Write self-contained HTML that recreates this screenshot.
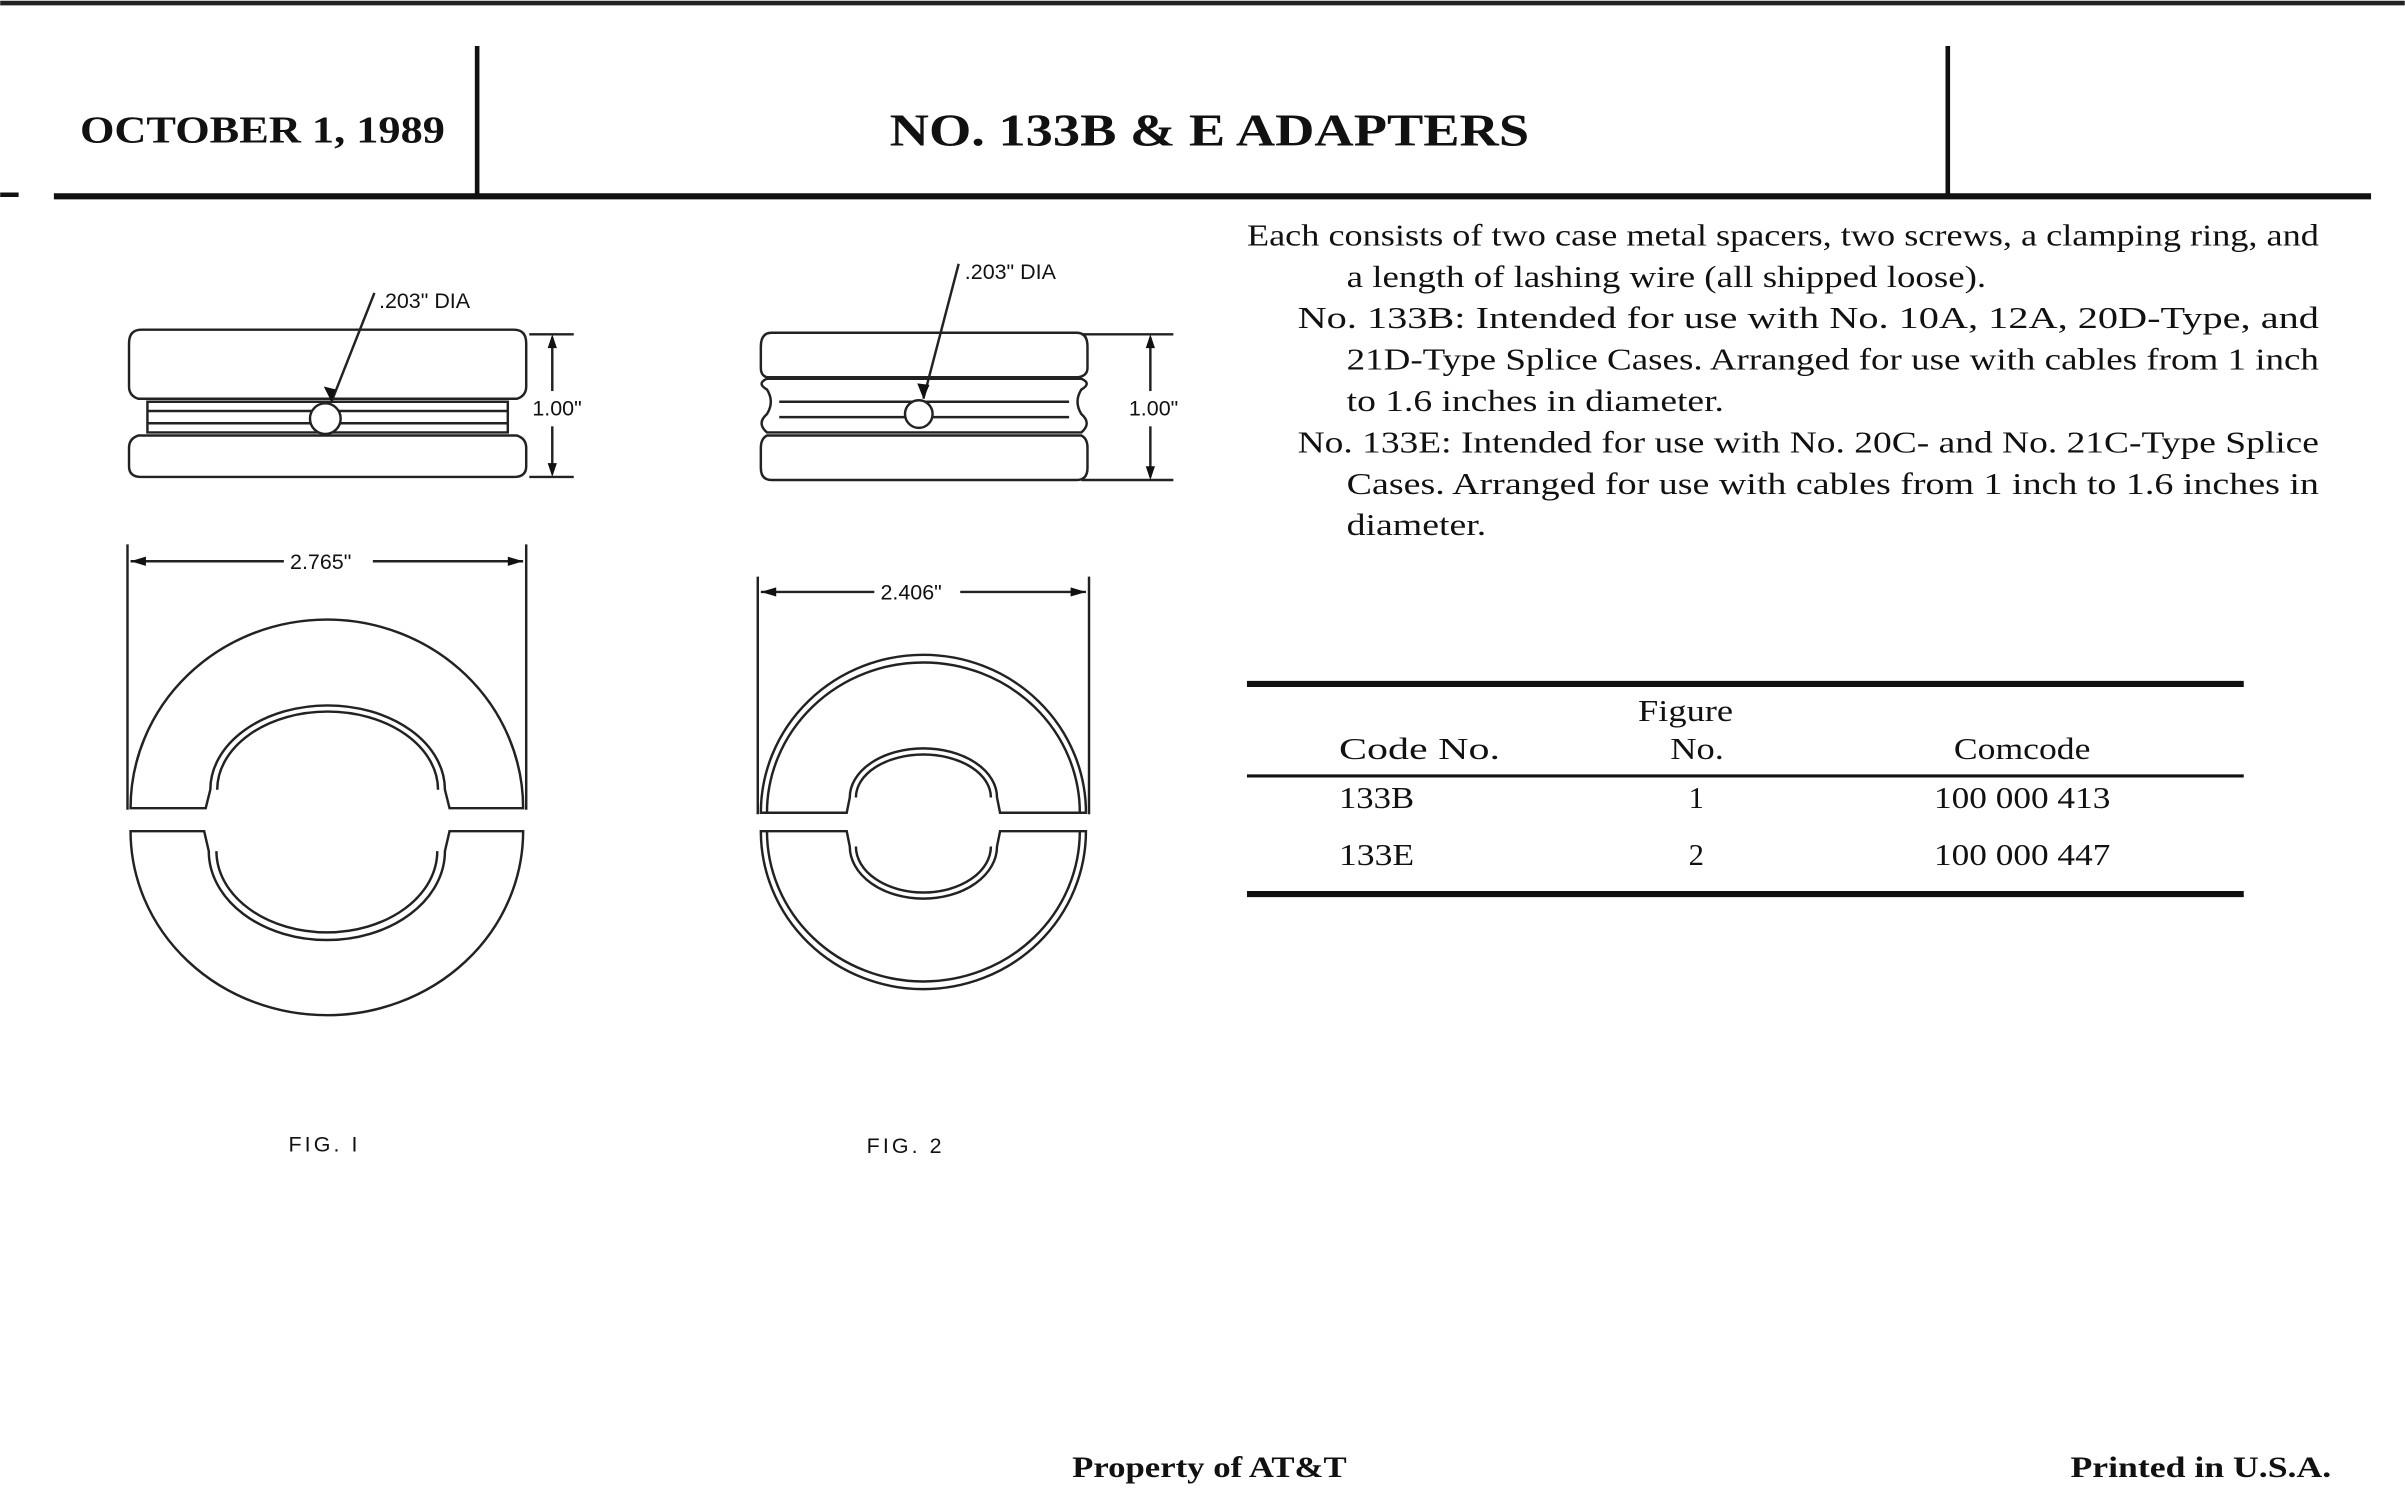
<!DOCTYPE html>
<html><head><meta charset="utf-8"><style>
html,body{margin:0;padding:0;background:#fff;}
svg{display:block;}
.s{font-family:"Liberation Serif",serif;fill:#111;}
.d{font-family:"Liberation Sans",sans-serif;fill:#111;font-size:14px;}
</style></head><body>
<svg width="2405" height="1509" viewBox="0 0 1568 984" xmlns="http://www.w3.org/2000/svg">
<rect width="1568" height="984" fill="#fff"/>
<line x1="0" y1="2" x2="1568" y2="2" stroke="#222" stroke-width="3"/>
<line x1="0" y1="127" x2="12" y2="127" stroke="#111" stroke-width="3"/>
<text class="s" x="52" y="93" font-size="25" font-weight="bold" textLength="238" lengthAdjust="spacingAndGlyphs">OCTOBER 1, 1989</text>
<line x1="311" y1="30" x2="311" y2="127" stroke="#111" stroke-width="3"/>
<text class="s" x="580" y="95" font-size="30" font-weight="bold" textLength="417" lengthAdjust="spacingAndGlyphs">NO. 133B &amp; E ADAPTERS</text>
<line x1="1270" y1="30" x2="1270" y2="127" stroke="#111" stroke-width="3"/>
<line x1="35" y1="128" x2="1546" y2="128" stroke="#111" stroke-width="4"/>

<g class="s" font-size="20">
<text x="813" y="160" textLength="699" lengthAdjust="spacingAndGlyphs">Each consists of two case metal spacers, two screws, a clamping ring, and</text>
<text x="878" y="187" textLength="417" lengthAdjust="spacingAndGlyphs">a length of lashing wire (all shipped loose).</text>
<text x="846" y="214" textLength="666" lengthAdjust="spacingAndGlyphs">No. 133B: Intended for use with No. 10A, 12A, 20D-Type, and</text>
<text x="878" y="241" textLength="634" lengthAdjust="spacingAndGlyphs">21D-Type Splice Cases. Arranged for use with cables from 1 inch</text>
<text x="878" y="268" textLength="246" lengthAdjust="spacingAndGlyphs">to 1.6 inches in diameter.</text>
<text x="846" y="295" textLength="666" lengthAdjust="spacingAndGlyphs">No. 133E: Intended for use with No. 20C- and No. 21C-Type Splice</text>
<text x="878" y="322" textLength="634" lengthAdjust="spacingAndGlyphs">Cases. Arranged for use with cables from 1 inch to 1.6 inches in</text>
<text x="878" y="349" textLength="91" lengthAdjust="spacingAndGlyphs">diameter.</text>
</g>

<line x1="813" y1="446" x2="1463" y2="446" stroke="#111" stroke-width="4"/>
<g class="s" font-size="20">
<text x="1068" y="470" textLength="62" lengthAdjust="spacingAndGlyphs">Figure</text>
<text x="873" y="495" textLength="105" lengthAdjust="spacingAndGlyphs">Code  No.</text>
<text x="1089" y="495" textLength="35" lengthAdjust="spacingAndGlyphs">No.</text>
<text x="1274" y="495" textLength="89" lengthAdjust="spacingAndGlyphs">Comcode</text>
<text x="873" y="527" textLength="49" lengthAdjust="spacingAndGlyphs">133B</text>
<text x="1106" y="527" text-anchor="middle">1</text>
<text x="1261" y="527" textLength="115" lengthAdjust="spacingAndGlyphs">100 000 413</text>
<text x="873" y="564" textLength="49" lengthAdjust="spacingAndGlyphs">133E</text>
<text x="1106" y="564" text-anchor="middle">2</text>
<text x="1261" y="564" textLength="115" lengthAdjust="spacingAndGlyphs">100 000 447</text>
</g>
<line x1="813" y1="506" x2="1463" y2="506" stroke="#111" stroke-width="2"/>
<line x1="813" y1="583" x2="1463" y2="583" stroke="#111" stroke-width="4"/>

<g fill="none" stroke="#222" stroke-width="1.6">
<!-- FIG 1 side view -->
<path d="M92 215 H335 Q343 215 343 224 V252 Q343 258 337 260 H90 Q84 258 84 252 V224 Q84 215 92 215 Z"/>
<path d="M96 262 H331 V282 H96 Z"/>
<line x1="96" y1="268" x2="331" y2="268"/>
<line x1="96" y1="276" x2="331" y2="276"/>
<path d="M90 284 H337 Q343 286 343 292 V304 Q343 311 335 311 H92 Q84 311 84 304 V292 Q84 286 90 284 Z"/>
<circle cx="212" cy="273" r="10" fill="#fff"/>
<line x1="244" y1="191" x2="216" y2="262"/>
<line x1="345" y1="218" x2="374" y2="218"/><line x1="345" y1="311" x2="374" y2="311"/>
<line x1="360" y1="220" x2="360" y2="255"/><line x1="360" y1="278" x2="360" y2="309"/>
<!-- FIG 1 top view -->
<line x1="83" y1="355" x2="83" y2="528"/><line x1="343" y1="355" x2="343" y2="528"/>
<line x1="85" y1="366" x2="185" y2="366"/><line x1="243" y1="366" x2="341" y2="366"/>
<path d="M85 527 A128 123 0 0 1 341 527 H293 L290 515 A76.5 55 0 0 0 137 515 L134 527 Z"/>
<path d="M141.5 515 A72 51 0 0 1 285.5 515"/>
<path d="M85 542 H133 L136 555 A77 58 0 0 0 290 555 L293 542 H341 A128 120 0 0 1 85 542 Z"/>
<path d="M141 555 A72 53 0 0 0 285 555"/>
<!-- FIG 2 side view -->
<path d="M503 217 H702 Q709 217 709 226 V240 Q709 245 703 246 H500 Q496 245 496 240 V226 Q496 217 503 217 Z"/>
<path d="M500 247 H705 Q712 250 705 254 Q700 262 705 270 Q712 276 705 282 H500 Q493 276 500 270 Q505 262 500 254 Q493 250 500 247 Z"/>
<line x1="508" y1="262" x2="697" y2="262"/><line x1="508" y1="272" x2="697" y2="272"/>
<path d="M500 284 H705 Q709 286 709 292 V305 Q709 313 702 313 H503 Q496 313 496 305 V292 Q496 286 500 284 Z"/>
<circle cx="599" cy="270" r="9" fill="#fff"/>
<line x1="625" y1="172" x2="602" y2="260"/>
<line x1="705" y1="218" x2="765" y2="218"/><line x1="705" y1="313" x2="765" y2="313"/>
<line x1="750" y1="220" x2="750" y2="255"/><line x1="750" y1="278" x2="750" y2="311"/>
<!-- FIG 2 top view -->
<line x1="494" y1="376" x2="494" y2="531"/><line x1="710" y1="376" x2="710" y2="531"/>
<line x1="496" y1="386" x2="570" y2="386"/><line x1="626" y1="386" x2="708" y2="386"/>
<path d="M496 530 A106 103 0 0 1 708 530 H652 L650 520 A48 32 0 0 0 554 520 L552 530 Z"/>
<path d="M500 530 A102 98 0 0 1 704 530"/>
<path d="M558 520 A44 28 0 0 1 646 520"/>
<path d="M496 542 H552 L554 552 A48 34 0 0 0 650 552 L652 542 H708 A106 103 0 0 1 496 542 Z"/>
<path d="M500 542 A102 98 0 0 0 704 542"/>
<path d="M558 552 A44 30 0 0 0 646 552"/>
</g>
<g fill="#111">
<path d="M216 262 l-5 -10 l8 2 z"/>
<path d="M602 260 l-4 -10 l8 1 z"/>
<path d="M360 218 l-3 9 h6 z"/><path d="M360 311 l-3 -9 h6 z"/>
<path d="M750 218 l-3 9 h6 z"/><path d="M750 313 l-3 -9 h6 z"/>
<path d="M85 366 l10 -3 v6 z"/><path d="M341 366 l-10 -3 v6 z"/>
<path d="M496 386 l10 -3 v6 z"/><path d="M708 386 l-10 -3 v6 z"/>
</g>
<text class="d" x="247" y="201">.203" DIA</text>
<text class="d" x="347" y="271">1.00"</text>
<text class="d" x="189" y="371">2.765"</text>
<text class="d" x="629" y="182">.203" DIA</text>
<text class="d" x="736" y="271">1.00"</text>
<text class="d" x="574" y="391">2.406"</text>
<text class="d" x="188" y="751" font-size="15" letter-spacing="2">FIG. I</text>
<text class="d" x="565" y="752" font-size="15" letter-spacing="2">FIG. 2</text>

<text class="s" x="699" y="963" font-size="19" font-weight="bold" textLength="179" lengthAdjust="spacingAndGlyphs">Property of AT&amp;T</text>
<text class="s" x="1350" y="963" font-size="19" font-weight="bold" textLength="170" lengthAdjust="spacingAndGlyphs">Printed in U.S.A.</text>
</svg>
</body></html>
